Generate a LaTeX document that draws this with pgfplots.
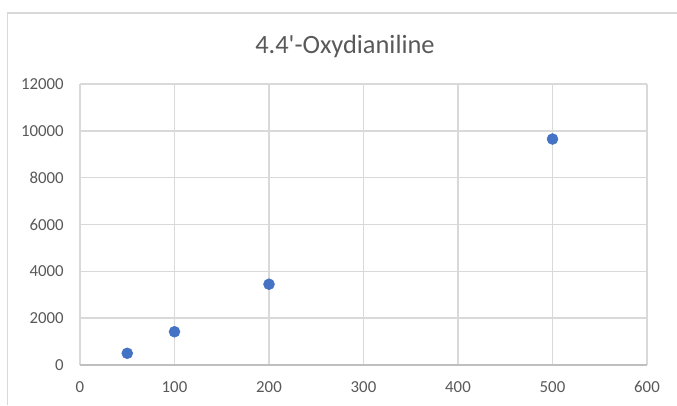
\documentclass[border=0pt]{standalone}
\usepackage{pgfplots}
\pgfplotsset{compat=1.18}
\usepackage{fontspec}
\setmainfont{Carlito}
\definecolor{markblue}{HTML}{4472C4}
\definecolor{gridgray}{HTML}{D9D9D9}
\definecolor{axisgray}{HTML}{BFBFBF}
\definecolor{textgray}{HTML}{595959}
\begin{document}
\begin{tikzpicture}
\path[use as bounding box] (0pt,0pt) rectangle (507.75pt,303.75pt);
\fill[white] (0pt,0pt) rectangle (507.75pt,303.75pt);
% chart area frame
\draw[gridgray, line width=1.1pt] (5.5pt,0pt) -- (5.5pt,294pt) -- (508pt,294pt);
\begin{axis}[
  at={(60pt,30pt)}, anchor=south west,
  scale only axis, width=425.25pt, height=210.75pt,
  xmin=0, xmax=600, ymin=0, ymax=12000,
  xtick distance=100, ytick distance=2000,
  grid=major,
  grid style={gridgray, line width=1.1pt},
  axis lines*=left,
  x axis line style={axisgray, line width=1.1pt},
  y axis line style={draw=none},
  major tick length=0pt,
  scaled y ticks=false,
  /pgf/number format/1000 sep={},
  /pgf/number format/assume math mode=true,
  ticklabel style={font=\fontsize{12.6}{14}\selectfont, text=textgray, inner sep=0pt},
  xticklabel style={anchor=base, yshift=-20.5pt},
  yticklabel style={anchor=east, xshift=-12pt},
  clip=false,
]
\addplot[only marks, mark=*, mark size=4.1pt, color=markblue]
  coordinates {(50,500) (100,1420) (200,3450) (500,9650)};
\end{axis}
\node[anchor=base, text=textgray, font=\fontsize{19.8}{24}\selectfont]
  at (258.75pt,264pt) {4.4\textquotesingle-Oxydianiline};
\end{tikzpicture}
\end{document}
